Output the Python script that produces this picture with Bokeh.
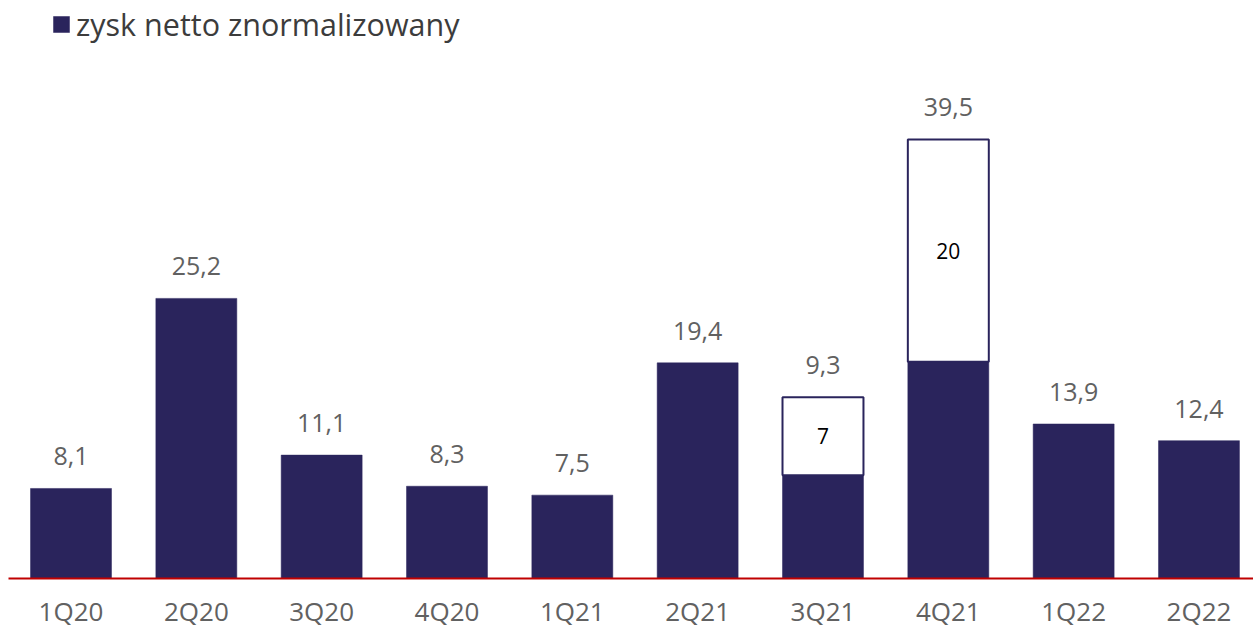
from bokeh.plotting import figure
from bokeh.models import ColumnDataSource, FixedTicker, Range1d, Legend, LegendItem
from bokeh.core.properties import value
from bokeh.embed import file_html
from bokeh.resources import INLINE

quarters = ["1Q20", "2Q20", "3Q20", "4Q20", "1Q21", "2Q21", "3Q21", "4Q21", "1Q22", "2Q22"]
normalized_profit = [8.1, 25.2, 11.1, 8.3, 7.5, 19.4, 9.3, 19.5, 13.9, 12.4]
one_off = [0, 0, 0, 0, 0, 0, 7, 20, 0, 0]
total_labels = ["8,1", "25,2", "11,1", "8,3", "7,5", "19,4", "9,3", "39,5", "13,9", "12,4"]
one_off_labels = ["", "", "", "", "", "", "7", "20", "", ""]
legend_label = "zysk netto znormalizowany"

NAVY = "#2A245C"
RED = "#C00000"
GRAY = "#616161"

xs = list(range(len(quarters)))
tops = [a + b for a, b in zip(normalized_profit, one_off)]
main = ColumnDataSource(dict(x=xs, norm=normalized_profit, top=tops, lbl=total_labels))

idx = [i for i, v in enumerate(one_off) if v > 0]
extra = ColumnDataSource(dict(
    x=[xs[i] for i in idx],
    bottom=[normalized_profit[i] for i in idx],
    top=[tops[i] for i in idx],
    mid=[normalized_profit[i] + one_off[i] / 2 for i in idx],
    lbl=[one_off_labels[i] for i in idx],
))

p = figure(width=1253, height=631, output_backend="svg", toolbar_location=None,
           x_range=Range1d(-0.4987, 9.435), y_range=Range1d(0, 52.0),
           y_axis_location=None, min_border=0, min_border_left=8, min_border_right=0,
           min_border_top=0, min_border_bottom=0)
p.outline_line_color = None
p.xgrid.visible = False
p.ygrid.visible = False
p.background_fill_color = "white"

W = 0.646
bars = p.vbar(x="x", top="norm", bottom=0, width=W, source=main,
              fill_color=NAVY, line_color=NAVY, line_width=0.5)
p.vbar(x="x", bottom="bottom", top="top", width=W, source=extra,
       fill_color="white", line_color=NAVY, line_width=2)

p.text(x="x", y="top", text="lbl", source=main, text_align="center",
       text_baseline="middle", y_offset=-32, text_font_size="25px",
       text_color=GRAY, text_font=value("Open Sans"))
p.text(x="x", y="mid", text="lbl", source=extra, text_align="center",
       text_baseline="middle", text_font_size="21px", text_color="black",
       text_font=value("Open Sans"))

ax = p.xaxis[0]
ax.ticker = FixedTicker(ticks=xs)
ax.major_label_overrides = {i: q for i, q in enumerate(quarters)}
ax.major_tick_line_color = None
ax.minor_tick_line_color = None
ax.major_tick_out = 0
ax.major_tick_in = 0
ax.axis_line_color = RED
ax.axis_line_width = 2
ax.major_label_standoff = 14
ax.major_label_text_font = "Open Sans"
ax.major_label_text_font_size = "26px"
ax.major_label_text_color = GRAY

legend = Legend(items=[LegendItem(label=legend_label, renderers=[bars])],
                location=(43, 533), glyph_width=20, glyph_height=20,
                label_standoff=5, padding=0, margin=0, border_line_alpha=0,
                background_fill_alpha=0, label_text_font="Open Sans",
                label_text_font_size="30.5px", label_text_color="#3C3C3C")
p.add_layout(legend)

open("out.html", "w").write(file_html(p, INLINE))
